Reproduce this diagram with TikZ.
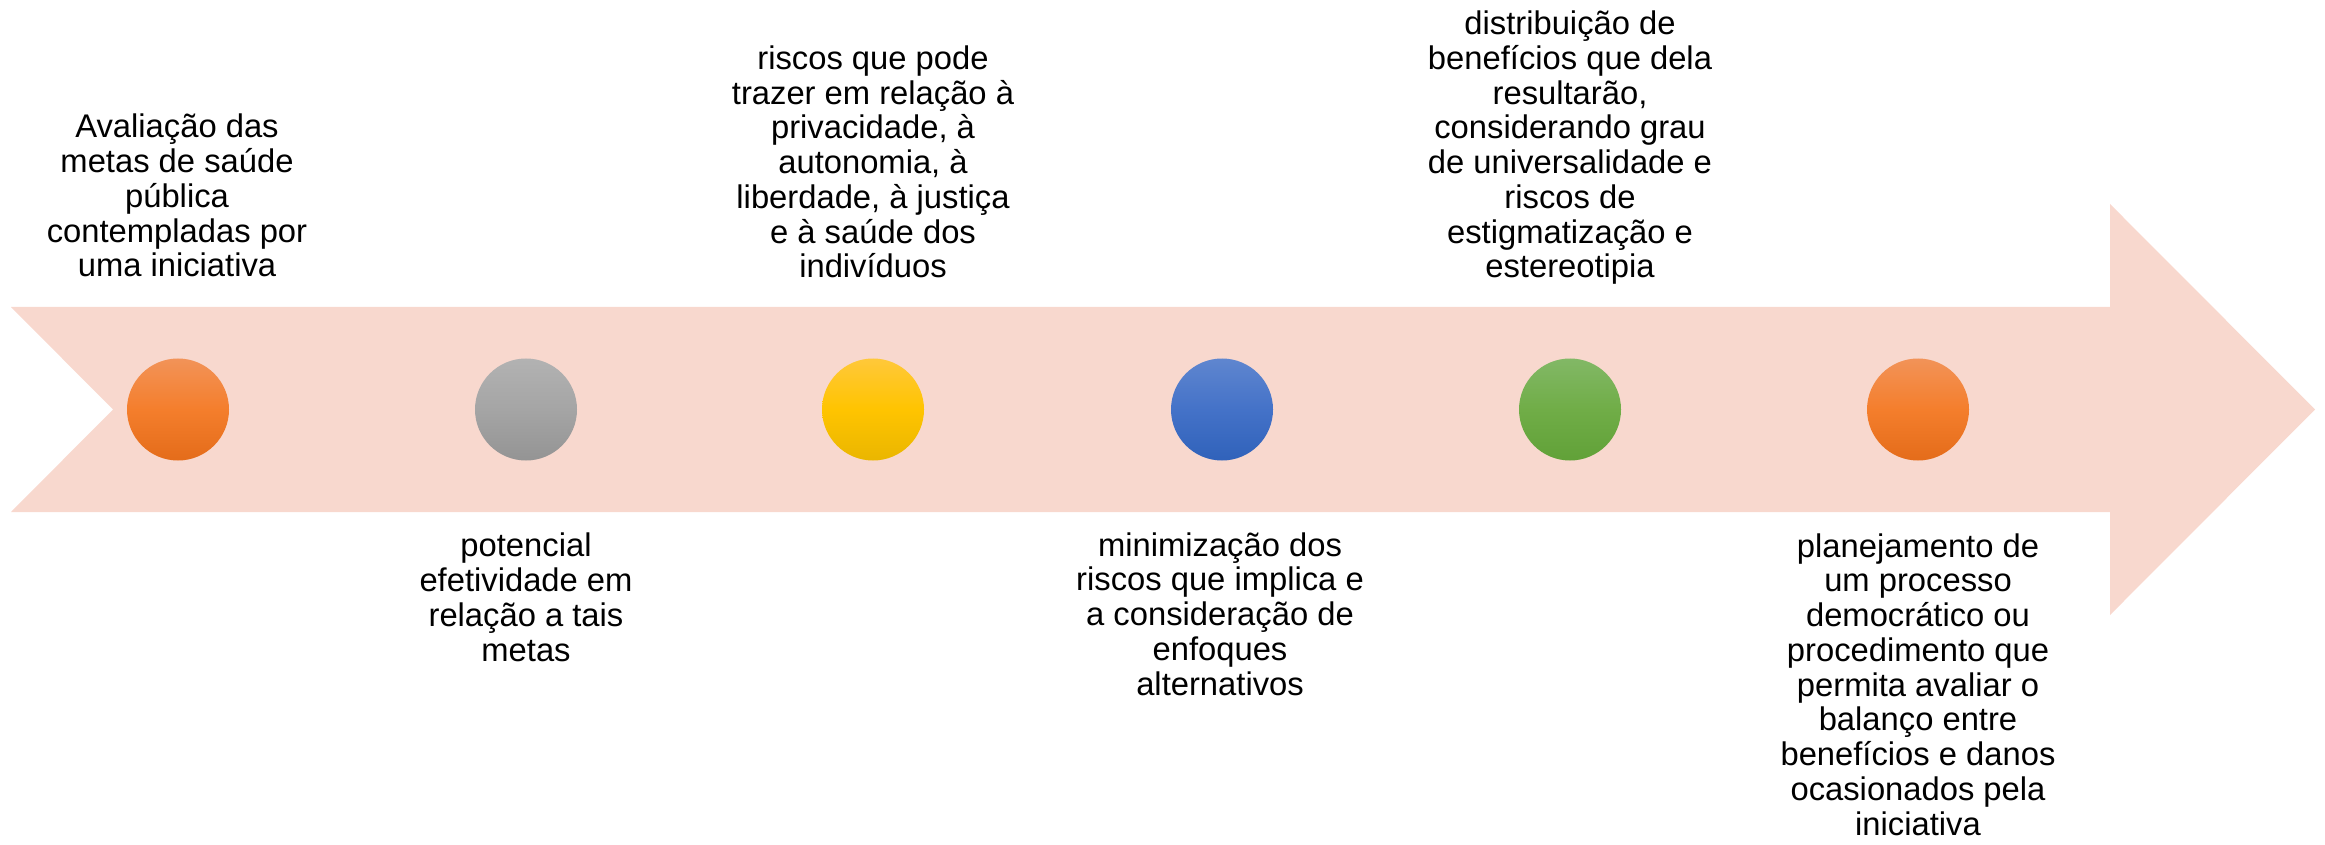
\documentclass[tikz,border=0pt]{standalone}
\usepackage{fontspec}
\setmainfont{Liberation Sans}
\definecolor{arrowfill}{HTML}{F8D8CE}
\definecolor{oT}{HTML}{F29358}\definecolor{oM}{HTML}{F47E2C}\definecolor{oB}{HTML}{E46C1A}
\definecolor{gT}{HTML}{B2B2B2}\definecolor{gM}{HTML}{A5A5A5}\definecolor{gB}{HTML}{949494}
\definecolor{yT}{HTML}{FFC83A}\definecolor{yM}{HTML}{FFC400}\definecolor{yB}{HTML}{EAB600}
\definecolor{bT}{HTML}{5F86CF}\definecolor{bM}{HTML}{4472C8}\definecolor{bB}{HTML}{3062BA}
\definecolor{vT}{HTML}{82B866}\definecolor{vM}{HTML}{70AD47}\definecolor{vB}{HTML}{61A138}
\begin{document}
\begin{tikzpicture}[x=0.4pt,y=-0.4pt,
  dot/.style={circle,minimum size=40.8pt,inner sep=0pt,draw=none},
  lbl/.style={align=center,inner sep=0pt,anchor=base,font=\fontsize{13.1pt}{13.9pt}\selectfont}]
\useasboundingbox (0,0) rectangle (2325,845);
\fill[arrowfill] (11,307) -- (2110,307) -- (2110,204) -- (2315,409.5) -- (2110,615)
  -- (2110,512) -- (11,512) -- (113,409.5) -- cycle;
\node[dot,top color=oT,bottom color=oB,middle color=oM] (c1) at (178,409.5) {};
\node[dot,top color=gT,bottom color=gB,middle color=gM] (c2) at (526,409.5) {};
\node[dot,top color=yT,bottom color=yB,middle color=yM] (c3) at (873,409.5) {};
\node[dot,top color=bT,bottom color=bB,middle color=bM] (c4) at (1222,409.5) {};
\node[dot,top color=vT,bottom color=vB,middle color=vM] (c5) at (1570,409.5) {};
\node[dot,top color=oT,bottom color=oB,middle color=oM] (c6) at (1918,409.5) {};
\node[lbl] (t1) at (177,277) {Avaliação das\\metas de saúde\\pública\\contempladas por\\uma iniciativa};
\node[lbl] (t2) at (526,661) {potencial\\efetividade em\\relação a tais\\metas};
\node[lbl] (t3) at (873,278) {riscos que pode\\trazer em relação à\\privacidade, à\\autonomia, à\\liberdade, à justiça\\e à saúde dos\\indivíduos};
\node[lbl] (t4) at (1220,695) {minimização dos\\riscos que implica e\\a consideração de\\enfoques\\alternativos};
\node[lbl] (t5) at (1570,278) {distribuição de\\benefícios que dela\\resultarão,\\considerando grau\\de universalidade e\\riscos de\\estigmatização e\\estereotipia};
\node[lbl] (t6) at (1918,835) {planejamento de\\um processo\\democrático ou\\procedimento que\\permita avaliar o\\balanço entre\\benefícios e danos\\ocasionados pela\\iniciativa};
\end{tikzpicture}
\end{document}
